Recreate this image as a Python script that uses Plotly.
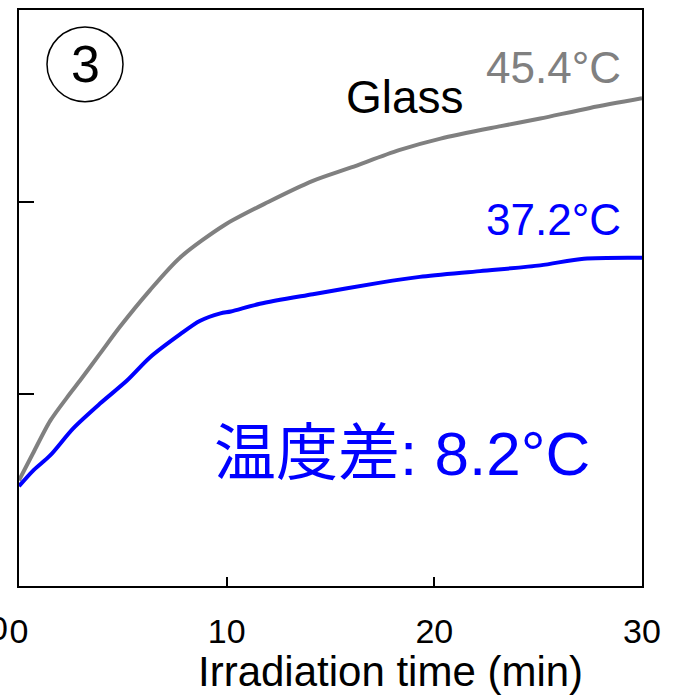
import plotly.graph_objects as go

# Irradiation time (min) and temperature (°C)
glass_time = [0, 0.67, 1.5, 2.3, 2.94, 3.9, 4.86, 6.3, 7.75, 9.9, 12, 14.15, 16, 18.3, 20.3, 23.2, 25.1, 27.5, 30]
glass_temp = [25.5, 26.9, 28.6, 29.8, 30.7, 32.1, 33.5, 35.4, 37.1, 38.8, 40.0, 41.1, 41.8, 42.7, 43.3, 43.95, 44.35, 44.9, 45.4]

film_time = [0, 0.67, 1.5, 2.6, 3.9, 5.2, 6.3, 7.75, 8.7, 9.7, 10.2, 11.6, 14.15, 17.4, 19.3, 22.2, 25.1, 27.2, 30]
film_temp = [25.2, 26.0, 26.8, 28.2, 29.5, 30.7, 31.9, 33.1, 33.8, 34.2, 34.3, 34.7, 35.2, 35.8, 36.1, 36.4, 36.7, 37.05, 37.1]

x_ticks = [0, 10, 20, 30]
x_tick_labels = ["0", "10", "20", "30"]
y_ticks = [20, 30, 40, 50]

FONT = "Liberation Sans, Arial, Noto Sans CJK JP, sans-serif"
GRAY = "#808080"
BLUE = "#0000ff"

W, H = 686, 699
L, R, T, B = 19, 44, 8, 113
PW = W - L - R
PH = H - T - B


def px(x):
    return (x - L) / PW


def py(y):
    return (H - B - y) / PH


fig = go.Figure()
fig.add_trace(go.Scatter(x=glass_time, y=glass_temp, mode="lines",
                         line=dict(color=GRAY, width=4, shape="spline", smoothing=0.8),
                         name="Glass", showlegend=False))
fig.add_trace(go.Scatter(x=film_time, y=film_temp, mode="lines",
                         line=dict(color=BLUE, width=4, shape="spline", smoothing=0.8),
                         name="Film", showlegend=False))

annotations = [
    dict(x=px(85), y=py(62), text="3", font=dict(size=52, color="black")),
    dict(x=px(405), y=py(95), text="Glass", font=dict(size=46, color="black")),
    dict(x=px(553), y=py(66), text="45.4°C", font=dict(size=44, color=GRAY)),
    dict(x=px(553), y=py(218), text="37.2°C", font=dict(size=44, color=BLUE)),
    dict(x=px(402), y=py(453), text="温度差: 8.2°C", font=dict(size=62, color=BLUE)),
    dict(x=px(9.5), y=py(628), text="0", xanchor="right", font=dict(size=34, color="black")),
    dict(x=px(390), y=py(672), text="Irradiation time (min)", font=dict(size=42, color="black")),
]
for a in annotations:
    a.setdefault("xanchor", "center")
    a.update(xref="paper", yref="paper", yanchor="middle", showarrow=False)
    a["font"]["family"] = FONT

fig.update_layout(
    width=W, height=H,
    margin=dict(l=L, r=R, t=T, b=B, pad=0),
    plot_bgcolor="white", paper_bgcolor="white",
    font=dict(family=FONT, color="black"),
    annotations=annotations,
    shapes=[dict(type="circle", xref="paper", yref="paper",
                 x0=px(47), x1=px(123), y0=py(100), y1=py(25),
                 line=dict(color="black", width=1.5))],
    xaxis=dict(range=[0, 30], tickvals=x_ticks, ticktext=x_tick_labels,
               showgrid=False, zeroline=False, showline=True, mirror=True,
               linecolor="black", linewidth=2, ticks="inside", ticklen=9,
               tickwidth=2, tickcolor="black", ticklabelstandoff=14,
               tickfont=dict(size=34, color="black", family=FONT)),
    yaxis=dict(range=[20, 50], tickvals=y_ticks, showticklabels=False,
               showgrid=False, zeroline=False, showline=True, mirror=True,
               linecolor="black", linewidth=2, ticks="inside", ticklen=15,
               tickwidth=2, tickcolor="black"),
)

fig.write_html("out.html")
